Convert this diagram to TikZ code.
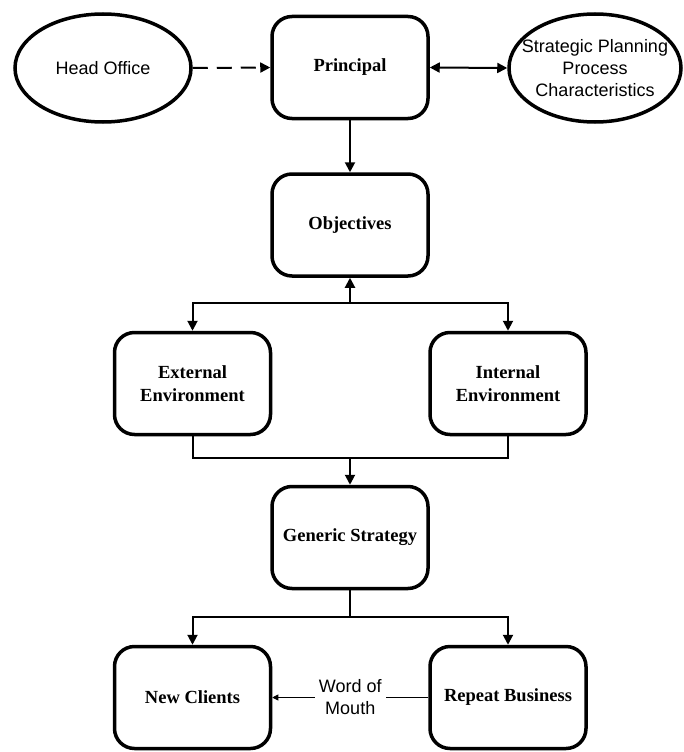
\documentclass[tikz,border=0pt]{standalone}
\usepackage{fontspec}
\setmainfont{Liberation Serif}
\setsansfont{Liberation Sans}
\usetikzlibrary{arrows.meta,shapes.geometric}

\begin{document}
\begin{tikzpicture}[x=1pt,y=-1pt,
  box/.style={draw, line width=3.5pt, rounded corners=20pt,
    minimum width=156pt, minimum height=102pt, inner sep=0pt,
    align=center, font=\fontsize{18.5}{23}\selectfont\bfseries},
  oval/.style={draw, ellipse, line width=3.5pt, inner sep=0pt,
    align=center, font=\sffamily\fontsize{18}{22}\selectfont},
  ovaltext/.style={align=center, inner sep=0pt,
    font=\sffamily\fontsize{18}{22}\selectfont},
  link/.style={line width=2pt, -{Triangle[length=10pt,width=10pt]}},
  wire/.style={line width=2pt},
  thinlink/.style={line width=0.9pt, -{Triangle[length=6pt,width=6pt]}}]

\useasboundingbox (0,0) rectangle (683,752);

% top row
\node[oval, minimum width=176pt, minimum height=108pt] (ho) at (103,68) {Head Office};
\node[box] (pr) at (350,67.5) {Principal};
\node[oval, minimum width=172pt, minimum height=108pt] (sp) at (595,68) {};
\node[ovaltext] (spt) at (sp.center) {Strategic Planning\\Process\\Characteristics};

% main column
\node[box] (ob) at (350,225) {Objectives};
\node[box] (ex) at (192.5,383.5) {External\\Environment};
\node[box] (in) at (508,383.5) {Internal\\Environment};
\node[box] (gs) at (350,537.5) {Generic Strategy};
\node[box] (nc) at (192.5,697.5) {New Clients};
\node[box] (rb) at (508,697.5) {Repeat Business};

% junction points
\coordinate (j1) at (350,303);
\coordinate (j2) at (350,458);
\coordinate (j3) at (350,617);

% connectors
\draw[link, dash pattern=on 15pt off 9pt] (ho.east) -- (pr.west);
\draw[line width=2pt, {Triangle[length=10pt,width=10pt]}-{Triangle[length=10pt,width=10pt]}]
  (pr.east) -- (sp.west);
\draw[link] (pr.south) -- (ob.north);

\draw[link] (j1) -- (ob.south);
\draw[link] (j1) -| (ex.north);
\draw[link] (j1) -| (in.north);

\draw[wire] (ex.south) |- (j2) -| (in.south);
\draw[link] (j2) -- (gs.north);

\draw[wire] (gs.south) -- (j3);
\draw[link] (j3) -| (nc.north);
\draw[link] (j3) -| (rb.north);

\draw[thinlink] (rb.west) -- node[fill=white, inner sep=4pt, align=center,
  font=\sffamily\fontsize{18}{22}\selectfont] {Word of\\Mouth} (nc.east);

\end{tikzpicture}
\end{document}
